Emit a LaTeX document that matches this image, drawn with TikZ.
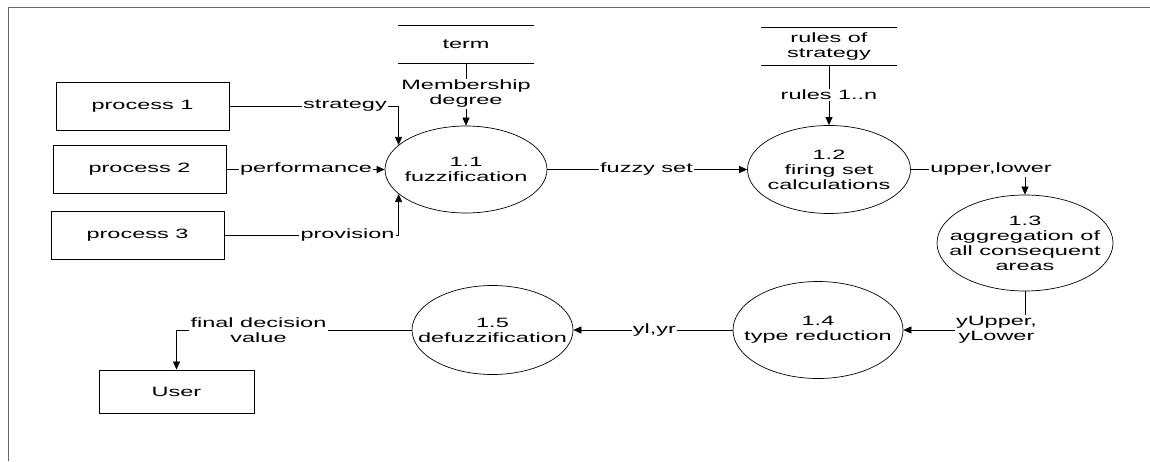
\documentclass[tikz,border=0pt]{standalone}
\usepackage{fontspec}
\setmainfont{Liberation Sans}[FakeStretch=1.74]
\usetikzlibrary{shapes.geometric,arrows.meta}

\begin{document}
\begin{tikzpicture}[x=1pt, y=1pt, line width=0.7pt,
  font=\fontsize{13.5}{15}\selectfont,
  procbox/.style={draw, line width=0.9pt, minimum width=173pt, minimum height=48pt},
  bubble/.style={draw, ellipse, inner sep=0pt},
  lbl/.style={align=center, inner sep=1pt},
  store/.style={minimum width=135pt, minimum height=37pt, inner sep=0pt, align=center},
  flow/.style={-{Triangle[length=8pt,width=7pt]}}]

 \useasboundingbox (0,0) rectangle (1150,461);

 %frame
 \draw[black!60] (8,0) -- (8,454) -- (1150,454);

 %external entities
 \foreach \n/\x/\y in {1/142.5/355, 2/139.5/291.5, 3/137.5/225.5} {
   \node[procbox] (p\n) at (\x,\y) {process \n};
 }
 \node[procbox, minimum width=155pt, minimum height=43pt] (user) at (176.5,69.5) {User};

 %data stores
 \node[store] (term) at (466,416.5) {term};
 \node[store] (rules) at (829,414.5) {rules of\\strategy};
 \foreach \s in {term, rules} {
   \draw (\s.north west) -- (\s.north east) (\s.south west) -- (\s.south east);
 }

 %processes
 \foreach \id/\x/\y/\w/\h/\txt in {
     11/466/291.5/162/87/{1.1\\fuzzification},
     12/829/291.5/163/88/{1.2\\firing set\\calculations},
     13/1025/218/176/96/{1.3\\aggregation of\\all consequent\\areas},
     14/818/131/170/97/{1.4\\type reduction},
     15/492.5/131/161/89/{1.5\\defuzzification}} {
   \node[bubble, minimum width=\w pt, minimum height=\h pt] (f\id) at (\x,\y) {};
   \node[align=center] (t\id) at (f\id) {\txt};
 }

 %flow labels
 \node[lbl] (lmem) at (466,367) {Membership\\degree};
 \node[lbl] (lrules) at (829,366) {rules 1..n};
 \node[lbl] (lstrat) at (345,355) {strategy};
 \node[lbl] (lperf) at (306,291.5) {performance};
 \node[lbl] (lprov) at (347.5,225.5) {provision};
 \node[lbl] (lfuzzy) at (646.5,291.5) {fuzzy set};
 \node[lbl] (lupper) at (991,291.5) {upper,lower};
 \node[lbl] (lyul) at (996.5,131) {yUpper,\\yLower};
 \node[lbl] (lyl) at (654.5,131) {yl,yr};
 \node[lbl] (lfinal) at (258.5,131) {final decision\\value};

 %flows
 \draw (p1) -- (lstrat);
 \draw[flow] (lstrat) -| (f11.160);
 \draw (p2) -- (lperf);
 \draw[flow] (lperf) -- (f11);
 \draw (p3) -- (lprov);
 \draw[flow] (lprov) -| (f11.200);
 \draw (term) -- (lmem);
 \draw[flow] (lmem) -- (f11);
 \draw (f11) -- (lfuzzy);
 \draw[flow] (lfuzzy) -- (f12);
 \draw (rules) -- (lrules);
 \draw[flow] (lrules) -- (f12);
 \draw (f12) -- (lupper);
 \draw[flow] (lupper.south -| f13) -- (f13);
 \draw (f13) -- (f13 |- lyul.north);
 \draw[flow] (lyul) -- (f14);
 \draw (f14) -- (lyl);
 \draw[flow] (lyl) -- (f15);
 \draw (f15) -- (lfinal);
 \draw[flow] (lfinal) -| (user);

\end{tikzpicture}
\end{document}
